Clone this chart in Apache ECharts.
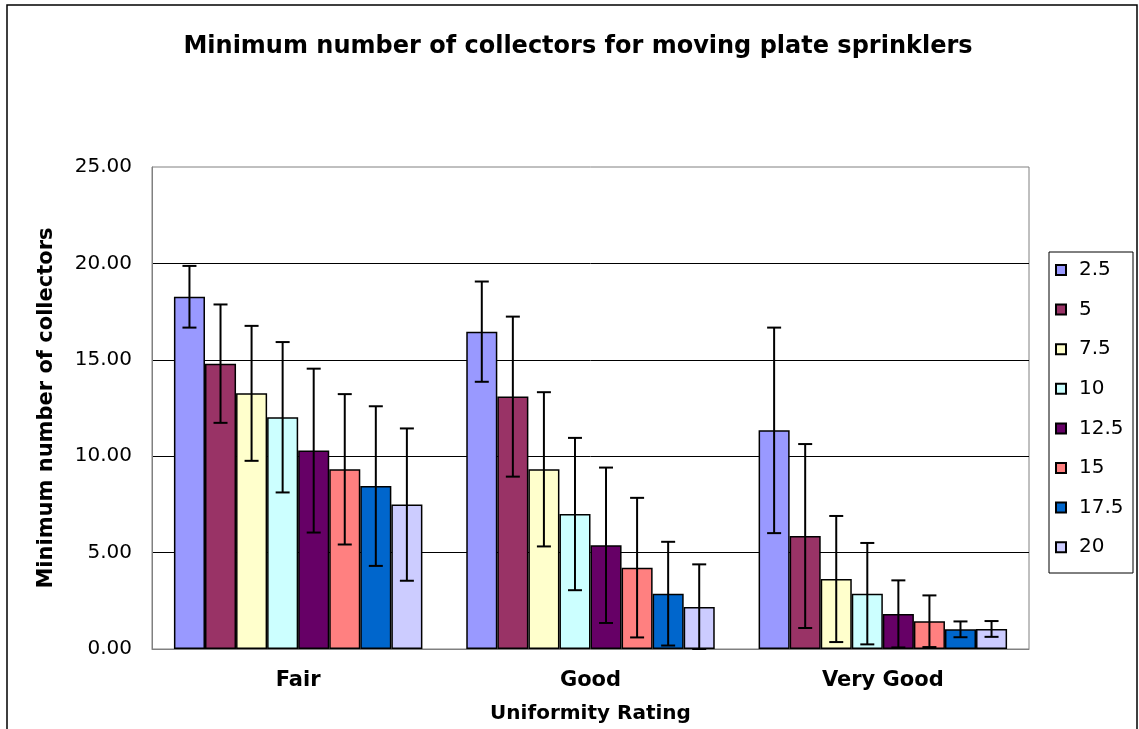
<!DOCTYPE html>
<html>
<head>
<meta charset="utf-8">
<script src="https://cdn.jsdelivr.net/npm/echarts@6/dist/echarts.min.js"></script>
<style>
html,body{margin:0;padding:0;background:#fff;}
#chart{width:1139px;height:729px;}
</style>
</head>
<body>
<div id="chart"></div>
<script>
// ---- data ----
const categories = ['Fair', 'Good', 'Very Good'];
const seriesNames = ['2.5', '5', '7.5', '10', '12.5', '15', '17.5', '20'];
const fairMeans     = [18.27, 14.80, 13.26, 12.02, 10.29, 9.32, 8.45, 7.49];
const goodMeans     = [16.46, 13.09, 9.32, 7.00, 5.38, 4.22, 2.87, 2.18];
const veryGoodMeans = [11.34, 5.86, 3.63, 2.87, 1.82, 1.44, 1.02, 1.04];
const fairErr       = [1.60, 3.07, 3.50, 3.90, 4.25, 3.90, 4.14, 3.95];
const goodErr       = [2.60, 4.15, 4.00, 3.95, 4.03, 3.62, 2.69, 2.21];
const veryGoodErr   = [5.33, 4.77, 3.27, 2.63, 1.74, 1.34, 0.41, 0.41];
const yTicks = [0, 5, 10, 15, 20, 25];

const colors = ['#9999FF', '#993366', '#FFFFCC', '#CCFFFF', '#660066', '#FF8080', '#0066CC', '#CCCCFF'];
const FONT = 'DejaVu Sans';
const CAT_GAP = 0.15;

const meansByCat = [fairMeans, goodMeans, veryGoodMeans];
const errByCat = [fairErr, goodErr, veryGoodErr];

const series = [];
seriesNames.forEach(function (name, i) {
  series.push({
    name: name,
    type: 'bar',
    data: categories.map(function (c, k) { return meansByCat[k][i]; }),
    barGap: '0%',
    barCategoryGap: (CAT_GAP * 100) + '%',
    itemStyle: { color: colors[i], borderColor: '#000', borderWidth: 1.5 },
    emphasis: { disabled: true },
    z: 2
  });
});
seriesNames.forEach(function (name, i) {
  series.push({
    name: name + ' err',
    type: 'custom',
    data: categories.map(function (c, k) {
      const m = meansByCat[k][i], e = errByCat[k][i];
      return [k, Math.max(0, m - e), m + e];
    }),
    encode: { x: 0, y: [1, 2] },
    z: 5,
    silent: true,
    renderItem: function (params, api) {
      const k = api.value(0);
      const band = api.size([1, 0])[0];
      const total = band * (1 - CAT_GAP);
      const barW = total / seriesNames.length;
      const center = api.coord([k, 0])[0];
      const cx = center - total / 2 + (i + 0.5) * barW;
      const yLo = api.coord([k, api.value(1)])[1];
      const yHi = api.coord([k, api.value(2)])[1];
      const cap = 7;
      const st = { stroke: '#000', lineWidth: 2 };
      return {
        type: 'group',
        children: [
          { type: 'line', shape: { x1: cx, y1: yLo, x2: cx, y2: yHi }, style: st },
          { type: 'line', shape: { x1: cx - cap, y1: yHi, x2: cx + cap, y2: yHi }, style: st },
          { type: 'line', shape: { x1: cx - cap, y1: yLo, x2: cx + cap, y2: yLo }, style: st }
        ]
      };
    }
  });
});

const chart = echarts.init(document.getElementById('chart'), null, { renderer: 'canvas' });
chart.setOption({
  animation: false,
  backgroundColor: '#fff',
  title: {
    text: 'Minimum number of collectors for moving plate sprinklers',
    left: 573,
    top: 30,
    textAlign: 'center',
    textStyle: { fontFamily: FONT, fontSize: 24, fontWeight: 'bold', color: '#000' }
  },
  legend: {
    data: seriesNames,
    orient: 'vertical',
    left: 1055,
    top: 260,
    padding: 0,
    itemWidth: 10,
    itemHeight: 10,
    itemGap: 19.6,
    icon: 'rect',
    selectedMode: false,
    textStyle: { fontFamily: FONT, fontSize: 20, color: '#000', lineHeight: 20, padding: [0, 0, 0, 8] }
  },
  grid: {
    left: 152, right: 110, top: 167, bottom: 80,
    show: true, borderColor: '#808080', borderWidth: 1, backgroundColor: '#fff'
  },
  xAxis: {
    type: 'category',
    data: categories,
    axisTick: { show: false },
    axisLine: { lineStyle: { color: '#808080', width: 1 } },
    axisLabel: { fontFamily: FONT, fontSize: 21, fontWeight: 'bold', color: '#000', margin: 21 },
    name: 'Uniformity Rating',
    nameLocation: 'middle',
    nameGap: 55,
    nameTextStyle: { fontFamily: FONT, fontSize: 20, fontWeight: 'bold', color: '#000' }
  },
  yAxis: {
    type: 'value',
    min: yTicks[0],
    max: yTicks[yTicks.length - 1],
    interval: 5,
    axisLine: { show: true, lineStyle: { color: '#808080', width: 1 } },
    axisTick: { show: false },
    splitLine: { show: true, showMinLine: false, showMaxLine: false, lineStyle: { color: '#000', width: 1 } },
    axisLabel: {
      fontFamily: FONT, fontSize: 20, color: '#000', margin: 20,
      formatter: function (v) { return v.toFixed(2); }
    },
    name: 'Minimum number of collectors',
    nameLocation: 'middle',
    nameGap: 95,
    nameTextStyle: { fontFamily: FONT, fontSize: 21, fontWeight: 'bold', color: '#000' }
  },
  graphic: [
    { type: 'rect', shape: { x: 7, y: 5, width: 1130, height: 740 }, style: { fill: 'none', stroke: '#000', lineWidth: 1.5 }, z: 100, silent: true },
    { type: 'rect', shape: { x: 1049, y: 252, width: 84, height: 321 }, style: { fill: 'none', stroke: '#000', lineWidth: 1 }, z: 100, silent: true }
  ],
  series: series
});
</script>
</body>
</html>
